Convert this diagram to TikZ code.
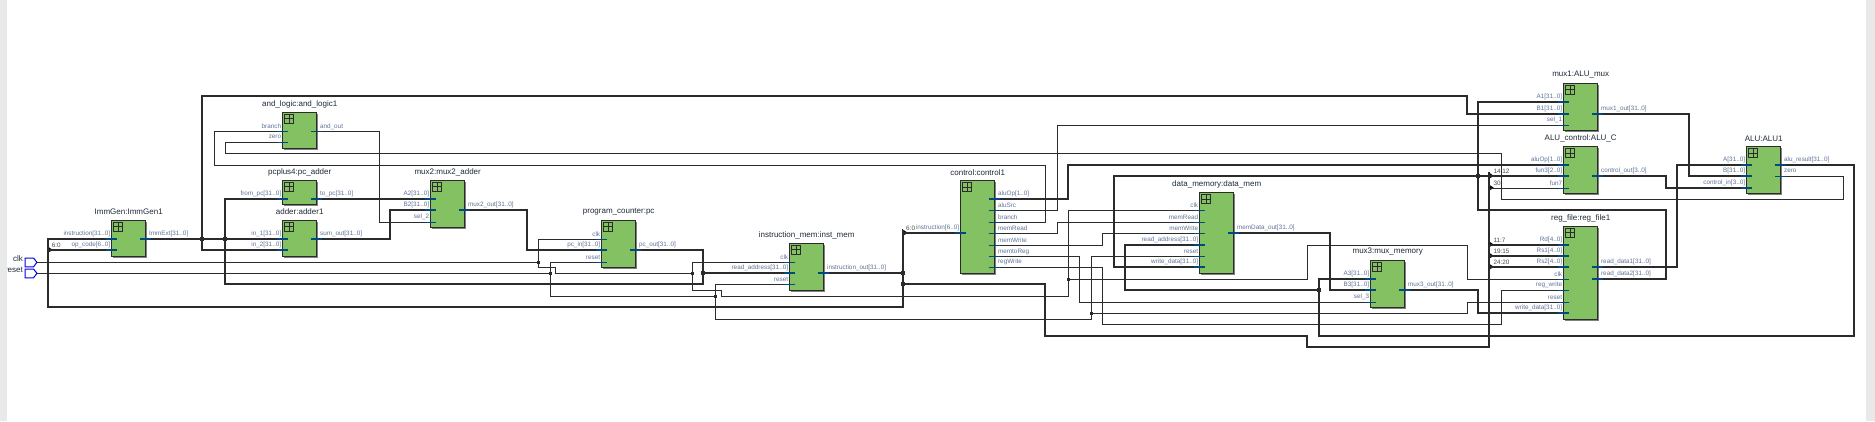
\documentclass[tikz,border=0pt]{standalone}
\usepackage{fontspec}
\setmainfont{Liberation Sans}
\usetikzlibrary{shadows}
\definecolor{wirec}{HTML}{2B2B2B}
\definecolor{stubc}{HTML}{004A80}
\definecolor{blockc}{HTML}{84C163}
\definecolor{portc}{HTML}{5F7396}
\definecolor{titlec}{HTML}{1F2A38}
\definecolor{stripc}{HTML}{E9E9E9}
\tikzset{
  x=1pt,y=-1pt,
  wbus/.style={draw=wirec,line width=2pt,line join=miter},
  wnet/.style={draw=wirec,line width=1pt,line join=miter},
  sbus/.style={draw=stubc,line width=2pt},
  snet/.style={draw=stubc,line width=1pt},
  blockbox/.style={draw=wirec,line width=1pt,fill=blockc,anchor=north west,inner sep=0pt,outer sep=0pt,minimum width=34pt,
    drop shadow={shadow xshift=1.4pt,shadow yshift=-1.4pt,fill=black!50,opacity=1}},
  blocktitle/.style={font=\fontsize{8}{9}\selectfont,text=titlec,inner sep=0pt,anchor=center},
  portl/.style={font=\fontsize{6.35}{7}\selectfont,text=portc,inner sep=0pt,anchor=east},
  portr/.style={font=\fontsize{6.35}{7}\selectfont,text=portc,inner sep=0pt,anchor=west},
  taptext/.style={font=\fontsize{6.35}{7}\selectfont,text=black!70,inner sep=0pt,anchor=west},
  pintext/.style={font=\fontsize{8}{9}\selectfont,text=titlec,inner sep=0pt,anchor=east},
  dotbig/.style={fill=wirec,draw=none,inner sep=0pt,outer sep=0pt,minimum size=4pt},
  dotsmall/.style={fill=wirec,draw=none,inner sep=0pt,outer sep=0pt,minimum size=3pt},
  pinbox/.style={draw={rgb,255:red,0;green,0;blue,235},line width=1pt,fill=white}
}
% #1 name, #2 x, #3 top, #4 bottom, #5 title
\newcommand\blockat[5]{%
  \pgfmathsetmacro\blkh{#4-#3}%
  \expandafter\xdef\csname blkx#1\endcsname{#2}%
  \node[blockbox,minimum height=\blkh pt] (#1) at (#2,#3) {};
  \node[blocktitle] (#1-title) at (#2+17,#3-8.3) {#5};
  \draw[wirec,line width=1pt] (#2+1.8,#3+2) rectangle (#2+11,#3+11.2)
     (#2+6.4,#3+2) -- (#2+6.4,#3+11.2) (#2+1.8,#3+6.6) -- (#2+11,#3+6.6);
}
% left port: #1 box, #2 id, #3 y, #4 text, #5 stub style
\newcommand\portleft[5]{%
  \edef\px{\csname blkx#1\endcsname}%
  \coordinate (#1-#2) at (\px-6,#3);
  \draw[#5] (\px-6,#3) -- (\px+5,#3);
  \node[portl] (#1-#2-text) at (\px-1.4,#3-5) {#4};
}
\newcommand\portright[5]{%
  \edef\px{\csname blkx#1\endcsname}%
  \coordinate (#1-#2) at (\px+39.5,#3);
  \draw[#5] (\px+28.5,#3) -- (\px+39.5,#3);
  \node[portr] (#1-#2-text) at (\px+37.2,#3-5) {#4};
}
% tap: #1 name, #2 x, #3 y
\newcommand\tapat[3]{%
  \coordinate (#1) at (#2,#3);
  \fill[black] (#2-1,#3-4) -- (#2+5,#3) -- (#2-1,#3+3) -- cycle;
}
\begin{document}
\begin{tikzpicture}
\useasboundingbox (0,0) rectangle (1875,421);
\fill[white] (0,0) rectangle (1875,421);

% ---- blocks and ports
\blockat{imm}{111.7}{220.3}{256.7}{ImmGen:ImmGen1}
\portleft{imm}{instr}{239}{instruction[31..0]}{sbus}
\portleft{imm}{op}{250}{op\_code[6..0]}{sbus}
\portright{imm}{out}{239}{ImmExt[31..0]}{sbus}

\blockat{andl}{282.7}{112.3}{148.7}{and\_logic:and\_logic1}
\portleft{andl}{branch}{131.7}{branch}{snet}
\portleft{andl}{zero}{142.3}{zero}{snet}
\portright{andl}{out}{131.7}{and\_out}{snet}

\blockat{pcp}{282.7}{180.3}{204.7}{pcplus4:pc\_adder}
\portleft{pcp}{from}{199}{from\_pc[31..0]}{sbus}
\portright{pcp}{to}{199}{to\_pc[31..0]}{sbus}

\blockat{add}{282.7}{220.3}{256.7}{adder:adder1}
\portleft{add}{ina}{239}{in\_1[31..0]}{sbus}
\portleft{add}{inb}{250}{in\_2[31..0]}{sbus}
\portright{add}{out}{239}{sum\_out[31..0]}{sbus}

\blockat{mxb}{430.7}{180.3}{227.7}{mux2:mux2\_adder}
\portleft{mxb}{a}{199}{A2[31..0]}{sbus}
\portleft{mxb}{b}{210}{B2[31..0]}{sbus}
\portleft{mxb}{sel}{222.3}{sel\_2}{snet}
\portright{mxb}{out}{210}{mux2\_out[31..0]}{sbus}

\blockat{pc}{601.7}{220.3}{267.7}{program\_counter:pc}
\portleft{pc}{clk}{239.3}{clk}{snet}
\portleft{pc}{in}{250}{pc\_in[31..0]}{sbus}
\portleft{pc}{rst}{262.3}{reset}{snet}
\portright{pc}{out}{250}{pc\_out[31..0]}{sbus}

\blockat{im}{789.7}{243.3}{290.3}{instruction\_mem:inst\_mem}
\portleft{im}{clk}{262.3}{clk}{snet}
\portleft{im}{addr}{273}{read\_address[31..0]}{sbus}
\portleft{im}{rst}{284.3}{reset}{snet}
\portright{im}{out}{273}{instruction\_out[31..0]}{sbus}

\blockat{ctl}{960.7}{180.7}{273.7}{control:control1}
\portleft{ctl}{instr}{233}{instruction[6..0]}{sbus}
\portright{ctl}{aluop}{199}{aluOp[1..0]}{sbus}
\portright{ctl}{alusrc}{210.3}{aluSrc}{snet}
\portright{ctl}{branch}{222.3}{branch}{snet}
\portright{ctl}{mread}{233.3}{memRead}{snet}
\portright{ctl}{mwrite}{245.3}{memWrite}{snet}
\portright{ctl}{mtoreg}{256.7}{memtoReg}{snet}
\portright{ctl}{rwrite}{267.3}{regWrite}{snet}

\blockat{dm}{1199.7}{192.7}{273.7}{data\_memory:data\_mem}
\portleft{dm}{clk}{210.3}{clk}{snet}
\portleft{dm}{mread}{222.3}{memRead}{snet}
\portleft{dm}{mwrite}{233.3}{memWrite}{snet}
\portleft{dm}{addr}{245}{read\_address[31..0]}{sbus}
\portleft{dm}{rst}{256.5}{reset}{snet}
\portleft{dm}{wdata}{267}{write\_data[31..0]}{sbus}
\portright{dm}{out}{232.7}{memData\_out[31..0]}{sbus}

\blockat{mxm}{1370.7}{260.3}{307.7}{mux3:mux\_memory}
\portleft{mxm}{a}{278.7}{A3[31..0]}{sbus}
\portleft{mxm}{b}{290}{B3[31..0]}{sbus}
\portleft{mxm}{sel}{302.3}{sel\_3}{snet}
\portright{mxm}{out}{290}{mux3\_out[31..0]}{sbus}

\blockat{mxa}{1563.7}{83.3}{130.7}{mux1:ALU\_mux}
\portleft{mxa}{a}{101.7}{A1[31..0]}{sbus}
\portleft{mxa}{b}{113.7}{B1[31..0]}{sbus}
\portleft{mxa}{sel}{125.3}{sel\_1}{snet}
\portright{mxa}{out}{113.7}{mux1\_out[31..0]}{sbus}

\blockat{ac}{1563.7}{146.7}{193.7}{ALU\_control:ALU\_C}
\portleft{ac}{aluop}{164.7}{aluOp[1..0]}{sbus}
\portleft{ac}{fa}{176}{fun3[2..0]}{sbus}
\portleft{ac}{fb}{188}{fun7}{snet}
\portright{ac}{out}{176}{control\_out[3..0]}{sbus}

\blockat{alu}{1746.7}{146.7}{193.7}{ALU:ALU1}
\portleft{alu}{a}{164.7}{A[31..0]}{sbus}
\portleft{alu}{b}{176}{B[31..0]}{sbus}
\portleft{alu}{ctrl}{188}{control\_in[3..0]}{sbus}
\portright{alu}{res}{164.7}{alu\_result[31..0]}{sbus}
\portright{alu}{zero}{176.3}{zero}{snet}

\blockat{rf}{1563.7}{226.3}{319.7}{reg\_file:reg\_file1}
\portleft{rf}{rd}{244.7}{Rd[4..0]}{sbus}
\portleft{rf}{rsa}{256}{Rs1[4..0]}{sbus}
\portleft{rf}{rsb}{267}{Rs2[4..0]}{sbus}
\portleft{rf}{clk}{279.3}{clk}{snet}
\portleft{rf}{rw}{290.3}{reg\_write}{snet}
\portleft{rf}{rst}{302.3}{reset}{snet}
\portleft{rf}{wd}{313}{write\_data[31..0]}{sbus}
\portright{rf}{da}{267}{read\_data1[31..0]}{sbus}
\portright{rf}{db}{279}{read\_data2[31..0]}{sbus}

% ---- input pins
\draw[pinbox] (25,258) -- (33.5,258) -- (37,262.3) -- (33.5,266.8) -- (25,266.8) -- cycle;
\draw[pinbox] (25,269) -- (33.5,269) -- (37,273.3) -- (33.5,277.8) -- (25,277.8) -- cycle;
\coordinate (clkpin) at (37,262.3);
\coordinate (rstpin) at (37,273.3);
\node[pintext] (clkname) at (23,259) {clk};
\node[pintext] (rstname) at (23,270) {reset};

% ---- junctions
\node[dotbig] (jimm) at (201.7,239) {};
\node[dotbig] (jpc) at (225,239) {};
\node[dotbig] (jpcm) at (703,273) {};
\node[dotbig] (jia) at (903,273) {};
\node[dotbig] (jib) at (903,284) {};
\node[dotbig] (jres) at (1318.7,290) {};
\node[dotbig] (jrd) at (1478,176) {};
\node[dotsmall] (jclka) at (538.3,262.3) {};
\node[dotsmall] (jrsta) at (550.3,273.3) {};
\node[dotsmall] (jclkb) at (692.3,273.3) {};
\node[dotsmall] (jrstb) at (715.3,296.3) {};
\node[dotsmall] (jclkc) at (1068.3,279.3) {};
\node[dotsmall] (jrstc) at (1091.3,313.3) {};

% ---- bus taps
\tapat{topop}{48}{250}
\tapat{tctl}{903}{233}
\tapat{tfa}{1489}{176}
\tapat{tfb}{1489}{188}
\tapat{trd}{1489}{244.7}
\tapat{trsa}{1489}{256}
\tapat{trsb}{1489}{267}
\node[taptext] (lopa) at (51.7,245.7) {6:0};
\node[taptext] (lctl) at (906,228.7) {6:0};
\node[taptext] (lfa) at (1493.3,171.7) {14:12};
\node[taptext] (lfb) at (1493.3,183) {30};
\node[taptext] (lrd) at (1493.3,240) {11:7};
\node[taptext] (lrsa) at (1493.3,251) {19:15};
\node[taptext] (lrsb) at (1493.3,262.5) {24:20};

% ---- thick wires
\draw[wbus] (imm-instr) -- (48,239) -- (48,306.7) -- (903,306.7) -- (903,230);
\draw[wbus] (topop) -- (imm-op);
\draw[wbus] (tctl) -- (ctl-instr);
\draw[wbus] (im-out) -- (jia);
\draw[wbus] (jib) -- (1045.3,284) -- (1045.3,335.7) -- (1306.7,335.7) -- (1306.7,346.7) -- (1489,346.7) -- (1489,172);
\draw[wbus] (tfa) -- (ac-fa);
\draw[wbus] (trd) -- (rf-rd);
\draw[wbus] (trsa) -- (rf-rsa);
\draw[wbus] (trsb) -- (rf-rsb);
\draw[wbus] (imm-out) -- (add-ina);
\draw[wbus] (jimm) -- (201.7,95.7) -- (1467,95.7) -- (1467,113.7) -- (mxa-b);
\draw[wbus] (jimm) -- (201.7,250) -- (add-inb);
\draw[wbus] (pc-out) -- (703,250) -- (703,284) -- (225,284) -- (225,199) -- (pcp-from);
\draw[wbus] (jpcm) -- (im-addr);
\draw[wbus] (pcp-to) -- (mxb-a);
\draw[wbus] (add-out) -- (390,239) -- (390,210) -- (mxb-b);
\draw[wbus] (mxb-out) -- (527,210) -- (527,250) -- (pc-in);
\draw[wbus] (ctl-aluop) -- (1068,199) -- (1068,164.7) -- (ac-aluop);
\draw[wbus] (dm-addr) -- (1125.3,245) -- (1125.3,290) -- (jres);
\draw[wbus] (alu-res) -- (1854,164.7) -- (1854,336) -- (1318.7,336) -- (1318.7,278.7) -- (mxm-a);
\draw[wbus] (dm-out) -- (1330,232.7) -- (1330,290) -- (mxm-b);
\draw[wbus] (dm-wdata) -- (1114,267) -- (1114,176) -- (jrd);
\draw[wbus] (rf-db) -- (1666,279) -- (1666,210) -- (1478,210) -- (1478,101.7) -- (mxa-a);
\draw[wbus] (jrd) -- (tfa);
\draw[wbus] (mxm-out) -- (1478,290) -- (1478,313) -- (rf-wd);
\draw[wbus] (mxa-out) -- (1689,113.7) -- (1689,176) -- (alu-b);
\draw[wbus] (ac-out) -- (1666,176) -- (1666,188) -- (alu-ctrl);
\draw[wbus] (rf-da) -- (1677,267) -- (1677,164.7) -- (alu-a);

% ---- thin wires
\draw[wnet] (tfb) -- (ac-fb);
\draw[wnet] (andl-branch) -- (214.3,131.7) -- (214.3,165.3) -- (1045.3,165.3) -- (1045.3,222.3) -- (ctl-branch);
\draw[wnet] (andl-zero) -- (225.3,142.3) -- (225.3,153.3) -- (1501.3,153.3) -- (1501.3,199.3) -- (1843,199.3) -- (1843,176.3) -- (alu-zero);
\draw[wnet] (andl-out) -- (379.3,131.7) -- (379.3,222.3) -- (mxb-sel);
\draw[wnet] (clkpin) -- (jclka);
\draw[wnet] (pc-clk) -- (538.3,239.3) -- (538.3,267.7) -- (555.3,267.7) -- (555.3,273.3) -- (jclkb);
\draw[wnet] (im-clk) -- (692.3,262.3) -- (692.3,290.3) -- (721.3,290.3) -- (721.3,296.3) -- (1068.3,296.3) -- (1068.3,210.3) -- (dm-clk);
\draw[wnet] (jclkc) -- (1307.3,279.3) -- (1307.3,245.7) -- (1467.3,245.7) -- (1467.3,279.3) -- (rf-clk);
\draw[wnet] (rstpin) -- (jrsta);
\draw[wnet] (pc-rst) -- (550.3,262.3) -- (550.3,296.3) -- (jrstb);
\draw[wnet] (im-rst) -- (715.3,284.3) -- (715.3,319.3) -- (1091.3,319.3) -- (1091.3,256.5) -- (dm-rst);
\draw[wnet] (jrstc) -- (1467.3,313.3) -- (1467.3,302.3) -- (rf-rst);
\draw[wnet] (ctl-alusrc) -- (1057.3,210.3) -- (1057.3,125.3) -- (mxa-sel);
\draw[wnet] (ctl-mread) -- (1057.3,233.3) -- (1057.3,222.3) -- (dm-mread);
\draw[wnet] (ctl-mwrite) -- (1102.3,245.3) -- (1102.3,233.3) -- (dm-mwrite);
\draw[wnet] (ctl-mtoreg) -- (1079.7,256.7) -- (1079.7,302.3) -- (mxm-sel);
\draw[wnet] (ctl-rwrite) -- (1102.3,267.3) -- (1102.3,324.3) -- (1501.3,324.3) -- (1501.3,290.3) -- (rf-rw);

% ---- window edges
\fill[stripc] (0,0) rectangle (6.5,421);
\fill[stripc] (1865.6,0) rectangle (1875,421);
\end{tikzpicture}
\end{document}
